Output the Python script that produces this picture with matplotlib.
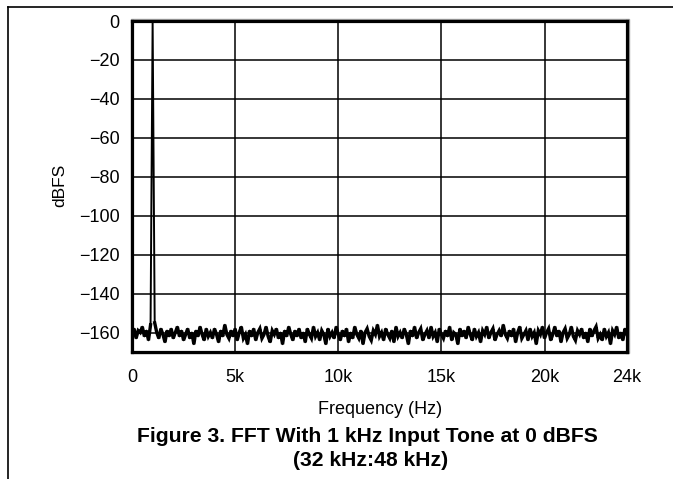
import numpy as np
import matplotlib.pyplot as plt
from matplotlib.lines import Line2D
from matplotlib.patches import Rectangle

plt.rcParams['font.family'] = ['Liberation Sans', 'DejaVu Sans']

# FFT bins, 100 Hz apart from 0 to 24 kHz; the tone sits at 1 kHz
bin_step_hz = 100
level_dbfs = [
    -161, -158, -163, -159, -160, -157, -162, -159, -164, -156, 0, -155, -160, -163, -158, -161, -165, -159, -162, -158,
    -163, -160, -157, -162, -159, -164, -161, -158, -163, -160, -166, -159, -162, -157, -161, -164, -158, -162, -160, -163,
    -158, -161, -165, -159, -162, -156, -161, -163, -159, -162, -158, -164, -160, -157, -163, -161, -166, -159, -162, -158,
    -164, -160, -158, -163, -161, -157, -162, -165, -159, -161, -158, -163, -160, -166, -159, -162, -157, -161, -164, -159,
    -162, -158, -163, -160, -165, -158, -161, -163, -157, -162, -160, -164, -159, -161, -166, -158, -162, -160, -163, -157,
    -161, -164, -159, -162, -158, -165, -160, -163, -157, -161, -163, -159, -166, -160, -158, -162, -164, -159, -161, -156,
    -162, -160, -164, -158, -161, -163, -159, -165, -157, -162, -160, -163, -158, -161, -166, -159, -162, -157, -163, -160,
    -158, -164, -161, -159, -163, -157, -162, -160, -165, -158, -161, -163, -159, -162, -157, -164, -160, -161, -166, -158,
    -162, -159, -163, -157, -161, -164, -158, -162, -160, -165, -159, -161, -157, -163, -160, -158, -164, -161, -159, -162,
    -156, -161, -163, -159, -162, -158, -165, -160, -157, -163, -161, -159, -164, -158, -162, -160, -166, -159, -161, -157,
    -163, -160, -158, -164, -161, -157, -162, -159, -165, -160, -158, -163, -161, -157, -162, -164, -159, -161, -158, -163,
    -160, -165, -158, -162, -159, -157, -163, -161, -164, -158, -162, -160, -166, -159, -161, -157, -163, -160, -164, -158,
    -161,
]
freq_hz = np.arange(len(level_dbfs)) * bin_step_hz
levels = np.array(level_dbfs, dtype=float)

x_ticks = [0, 5000, 10000, 15000, 20000, 24000]
x_labels = ['0', '5k', '10k', '15k', '20k', '24k']
y_ticks = [0, -20, -40, -60, -80, -100, -120, -140, -160]

fig = plt.figure(figsize=(6.73, 4.79), dpi=100)
ax = fig.add_axes([132 / 673, 1 - 352 / 479, 495 / 673, 331 / 479])

# thin trace for the whole spectrum, heavier stroke for the noise floor
ax.plot(freq_hz, levels, color='black', lw=1.4, zorder=3)
floor = np.ma.masked_where(levels > -100, levels)
ax.plot(freq_hz, floor, color='black', lw=2.4, solid_joinstyle='miter', zorder=3)

ax.set_xlim(0, 24000)
ax.set_ylim(-170, 0)
ax.set_xticks(x_ticks)
ax.set_xticklabels(x_labels)
ax.set_yticks(y_ticks)
ax.set_yticklabels([str(t).replace('-', '\u2212') for t in y_ticks])
ax.tick_params(length=0, labelsize=13)
ax.tick_params(axis='y', pad=9)
ax.tick_params(axis='x', pad=12)

# grid lines only at the inner ticks
for xv in x_ticks[1:-1]:
    ax.axvline(xv, color='black', lw=1.1, zorder=2)
for yv in y_ticks[1:]:
    ax.axhline(yv, color='black', lw=1.1, zorder=2)

for sp in ax.spines.values():
    sp.set_linewidth(2.3)
    sp.set_zorder(4)

# light grey shadow around the frame
fig.add_artist(Rectangle((131 / 673, 1 - 353 / 479), 498 / 673, 334 / 479,
                         transform=fig.transFigure, fill=False,
                         edgecolor='#a0a0a0', lw=1.0, zorder=0))

fig.text(60 / 673, 1 - 185 / 479, 'dBFS', rotation=90,
         ha='center', va='center', fontsize=12.5)
fig.text(380 / 673, 1 - 410 / 479, 'Frequency (Hz)',
         ha='center', va='center', fontsize=13)

fig.text(367 / 673, 1 - 437 / 479, 'Figure 3. FFT With 1 kHz Input Tone at 0 dBFS',
         ha='center', va='center', fontsize=15.2, fontweight='bold')
fig.text(371 / 673, 1 - 461 / 479, '(32 kHz:48 kHz)',
         ha='center', va='center', fontsize=15.2, fontweight='bold')

# page rules
fig.add_artist(Line2D([8 / 673, 1], [1 - 7 / 479, 1 - 7 / 479], color='black', lw=1.2))
fig.add_artist(Line2D([8 / 673, 8 / 673], [0, 1 - 7 / 479], color='black', lw=1.2))

fig.savefig('out.png', dpi=100)
